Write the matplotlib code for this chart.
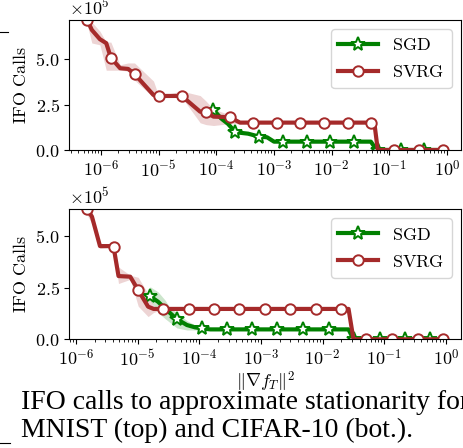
"""IFO calls needed to reach a gradient-norm threshold, SGD vs SVRG."""

import numpy as np
import matplotlib

matplotlib.use("Agg")
import matplotlib.pyplot as plt
from matplotlib.lines import Line2D
from matplotlib.ticker import FuncFormatter, NullFormatter

plt.rcParams["mathtext.fontset"] = "cm"
plt.rcParams["axes.formatter.use_mathtext"] = True

# ---- MNIST (top) ------------------------------------------------------------
# x values are log10 of the squared gradient norm threshold, y in units of 1e5
mnist_svrg_logx = [-6.24, -6.16, -6.02, -5.91, -5.83, -5.67, -5.53, -5.42, -5.09,
                   -5.00, -4.60, -4.28, -4.18, -4.05, -3.77, -3.59, -3.37, -2.95,
                   -2.55, -2.13, -1.72, -1.31, -1.26, -1.20, -0.91, -0.48, -0.075]
mnist_svrg_y = [7.17, 6.62, 6.11, 5.89, 5.09, 4.51, 4.47, 4.19, 3.03,
                2.98, 2.98, 2.11, 2.08, 1.84, 1.81, 1.51, 1.51, 1.51,
                1.51, 1.51, 1.51, 1.51, 1.51, 0.0, 0.0, 0.0, 0.0]
mnist_svrg_lo = [6.90, 5.90, 5.80, 4.40, 4.40, 4.40, 4.35, 3.85, 2.90,
                 2.98, 2.90, 1.50, 1.40, 1.35, 1.45, 1.45, 1.51, 1.51,
                 1.51, 1.51, 1.51, 1.51, 1.51, 0.0, 0.0, 0.0, 0.0]
mnist_svrg_hi = [7.17, 7.05, 6.55, 5.95, 5.95, 4.70, 4.80, 4.80, 3.80,
                 2.98, 3.25, 3.00, 2.70, 2.25, 1.95, 1.60, 1.51, 1.51,
                 1.51, 1.51, 1.51, 1.51, 1.51, 0.0, 0.0, 0.0, 0.0]
mnist_svrg_marks = [0, 4, 7, 9, 10, 12, 14, 16, 17, 18, 19, 20, 21, 24, 25, 26]

mnist_sgd_logx = [-4.05, -3.92, -3.80, -3.67, -3.45, -3.26, -3.12, -3.00, -2.84,
                  -2.43, -2.02, -1.61, -1.32, -1.22, -1.20, -0.79, -0.39, -0.07]
mnist_sgd_y = [2.22, 1.75, 1.45, 0.98, 0.90, 0.74, 0.70, 0.46, 0.46,
               0.46, 0.46, 0.46, 0.46, 0.0, 0.0, 0.0, 0.0, 0.0]
mnist_sgd_lo = [2.10, 1.60, 1.30, 0.90, 0.85, 0.70, 0.62, 0.44, 0.46,
                0.46, 0.46, 0.46, 0.46, 0.0, 0.0, 0.0, 0.0, 0.0]
mnist_sgd_hi = [2.30, 1.90, 1.60, 1.05, 0.95, 0.80, 0.75, 0.50, 0.46,
                0.46, 0.46, 0.46, 0.46, 0.0, 0.0, 0.0, 0.0, 0.0]
mnist_sgd_marks = [0, 3, 5, 8, 9, 10, 11, 14, 15, 16]

# ---- CIFAR-10 (bottom) ------------------------------------------------------
cifar_svrg_logx = [-5.817, -5.74, -5.61, -5.45, -5.39, -5.31, -5.12, -4.99, -4.83,
                   -4.74, -4.583, -4.166, -3.755, -3.349, -2.932, -2.526, -2.109,
                   -1.703, -1.58, -1.50, -1.292, -0.875, -0.459, -0.053]
cifar_svrg_y = [6.29, 5.93, 4.51, 4.51, 4.48, 3.06, 3.03, 2.38, 1.58,
                1.47, 1.47, 1.47, 1.47, 1.47, 1.47, 1.47, 1.47,
                1.47, 1.47, 0.0, 0.0, 0.0, 0.0, 0.0]
cifar_svrg_lo = [6.00, 5.60, 4.40, 4.45, 4.40, 2.70, 2.90, 1.60, 1.10,
                 1.30, 1.47, 1.47, 1.47, 1.47, 1.47, 1.47, 1.47,
                 1.47, 1.47, 0.0, 0.0, 0.0, 0.0, 0.0]
cifar_svrg_hi = [6.29, 6.20, 4.60, 4.55, 4.55, 3.50, 3.10, 3.00, 2.20,
                 1.60, 1.47, 1.47, 1.47, 1.47, 1.47, 1.47, 1.47,
                 1.47, 1.47, 0.0, 0.0, 0.0, 0.0, 0.0]
cifar_svrg_marks = [0, 4, 7, 10, 11, 12, 13, 14, 15, 16, 17, 20, 21, 22, 23]

cifar_sgd_logx = [-4.80, -4.67, -4.555, -4.47, -4.365, -4.20, -4.07, -3.96, -3.82,
                  -3.554, -3.148, -2.732, -2.32, -1.904, -1.58, -1.50, -1.49,
                  -1.076, -0.659, -0.253, -0.05]
cifar_sgd_y = [2.09, 1.82, 1.50, 1.26, 0.98, 0.69, 0.58, 0.53, 0.48,
               0.48, 0.48, 0.48, 0.48, 0.48, 0.48, 0.0, 0.0,
               0.0, 0.0, 0.0, 0.0]
cifar_sgd_lo = [1.90, 1.30, 1.00, 0.80, 0.55, 0.45, 0.45, 0.46, 0.48,
                0.48, 0.48, 0.48, 0.48, 0.48, 0.48, 0.0, 0.0,
                0.0, 0.0, 0.0, 0.0]
cifar_sgd_hi = [2.55, 2.30, 1.90, 1.50, 1.30, 0.90, 0.70, 0.60, 0.50,
                0.48, 0.48, 0.48, 0.48, 0.48, 0.48, 0.0, 0.0,
                0.0, 0.0, 0.0, 0.0]
cifar_sgd_marks = [0, 4, 7, 9, 10, 11, 12, 13, 16, 17, 18, 19]

yticks = [0.0, 2.5, 5.0]
SGD_COLOR = "green"
SVRG_COLOR = "#a52a2a"
FS = 13


def draw_series(ax, logx, y, lo, hi, marks, color, marker, ms, label):
    x = 10.0 ** np.asarray(logx)
    ax.fill_between(x, lo, hi, color=color, alpha=0.2, linewidth=0)
    ax.plot(x, y, color=color, lw=3, marker=marker, markevery=marks,
            markersize=ms, markerfacecolor="white", markeredgecolor=color,
            markeredgewidth=1.4, label=label)


def style_axes(ax, ymax):
    ax.set_xscale("log")
    ax.xaxis.set_major_formatter(
        FuncFormatter(lambda v, _: rf"$10^{{{int(round(np.log10(v)))}}}$"))
    ax.xaxis.set_minor_formatter(NullFormatter())
    ax.set_ylim(0, ymax)
    ax.set_yticks(yticks)
    ax.yaxis.set_major_formatter(FuncFormatter(lambda v, _: rf"${v:.1f}$"))
    ax.text(0, 1.01, r"$\times10^{5}$", transform=ax.transAxes,
            fontsize=FS, ha="left", va="bottom")
    ax.tick_params(labelsize=FS)
    ax.set_ylabel(r"$\mathrm{IFO\ Calls}$", fontsize=FS, labelpad=4)
    ax.legend(loc="upper right", fontsize=FS, handlelength=2.2,
              borderaxespad=0.5, framealpha=0.8)


fig = plt.figure(figsize=(4.63, 4.48), dpi=100)
ax_top = fig.add_axes([0.150, 0.6652, 0.845, 0.2902])
ax_bot = fig.add_axes([0.150, 0.2426, 0.845, 0.2902])

draw_series(ax_top, mnist_sgd_logx, mnist_sgd_y, mnist_sgd_lo, mnist_sgd_hi,
            mnist_sgd_marks, SGD_COLOR, "*", 10, r"$\mathrm{SGD}$")
draw_series(ax_top, mnist_svrg_logx, mnist_svrg_y, mnist_svrg_lo, mnist_svrg_hi,
            mnist_svrg_marks, SVRG_COLOR, "o", 7.5, r"$\mathrm{SVRG}$")
style_axes(ax_top, max(mnist_svrg_y))

draw_series(ax_bot, cifar_sgd_logx, cifar_sgd_y, cifar_sgd_lo, cifar_sgd_hi,
            cifar_sgd_marks, SGD_COLOR, "*", 10, r"$\mathrm{SGD}$")
draw_series(ax_bot, cifar_svrg_logx, cifar_svrg_y, cifar_svrg_lo, cifar_svrg_hi,
            cifar_svrg_marks, SVRG_COLOR, "o", 7.5, r"$\mathrm{SVRG}$")
style_axes(ax_bot, max(cifar_svrg_y))
ax_bot.set_xlabel(r"$\|\nabla f_T\|^2$", fontsize=FS, labelpad=0)

# caption text from the page
cap = dict(family="Liberation Serif", fontsize=20, va="baseline", ha="left")
fig.text(21 / 463, 1 - 409 / 448, "IFO calls to approximate stationarity for", **cap)
fig.text(21 / 463, 1 - 437 / 448, "MNIST (top) and CIFAR-10 (bot.).", **cap)

# stray rules from the neighbouring column
fig.add_artist(Line2D([0, 8 / 463], [1 - 32 / 448] * 2, color="black", lw=0.8))
fig.add_artist(Line2D([0, 10 / 463], [1 - 443 / 448] * 2, color="black", lw=0.8))

fig.savefig("out.png", dpi=100)
